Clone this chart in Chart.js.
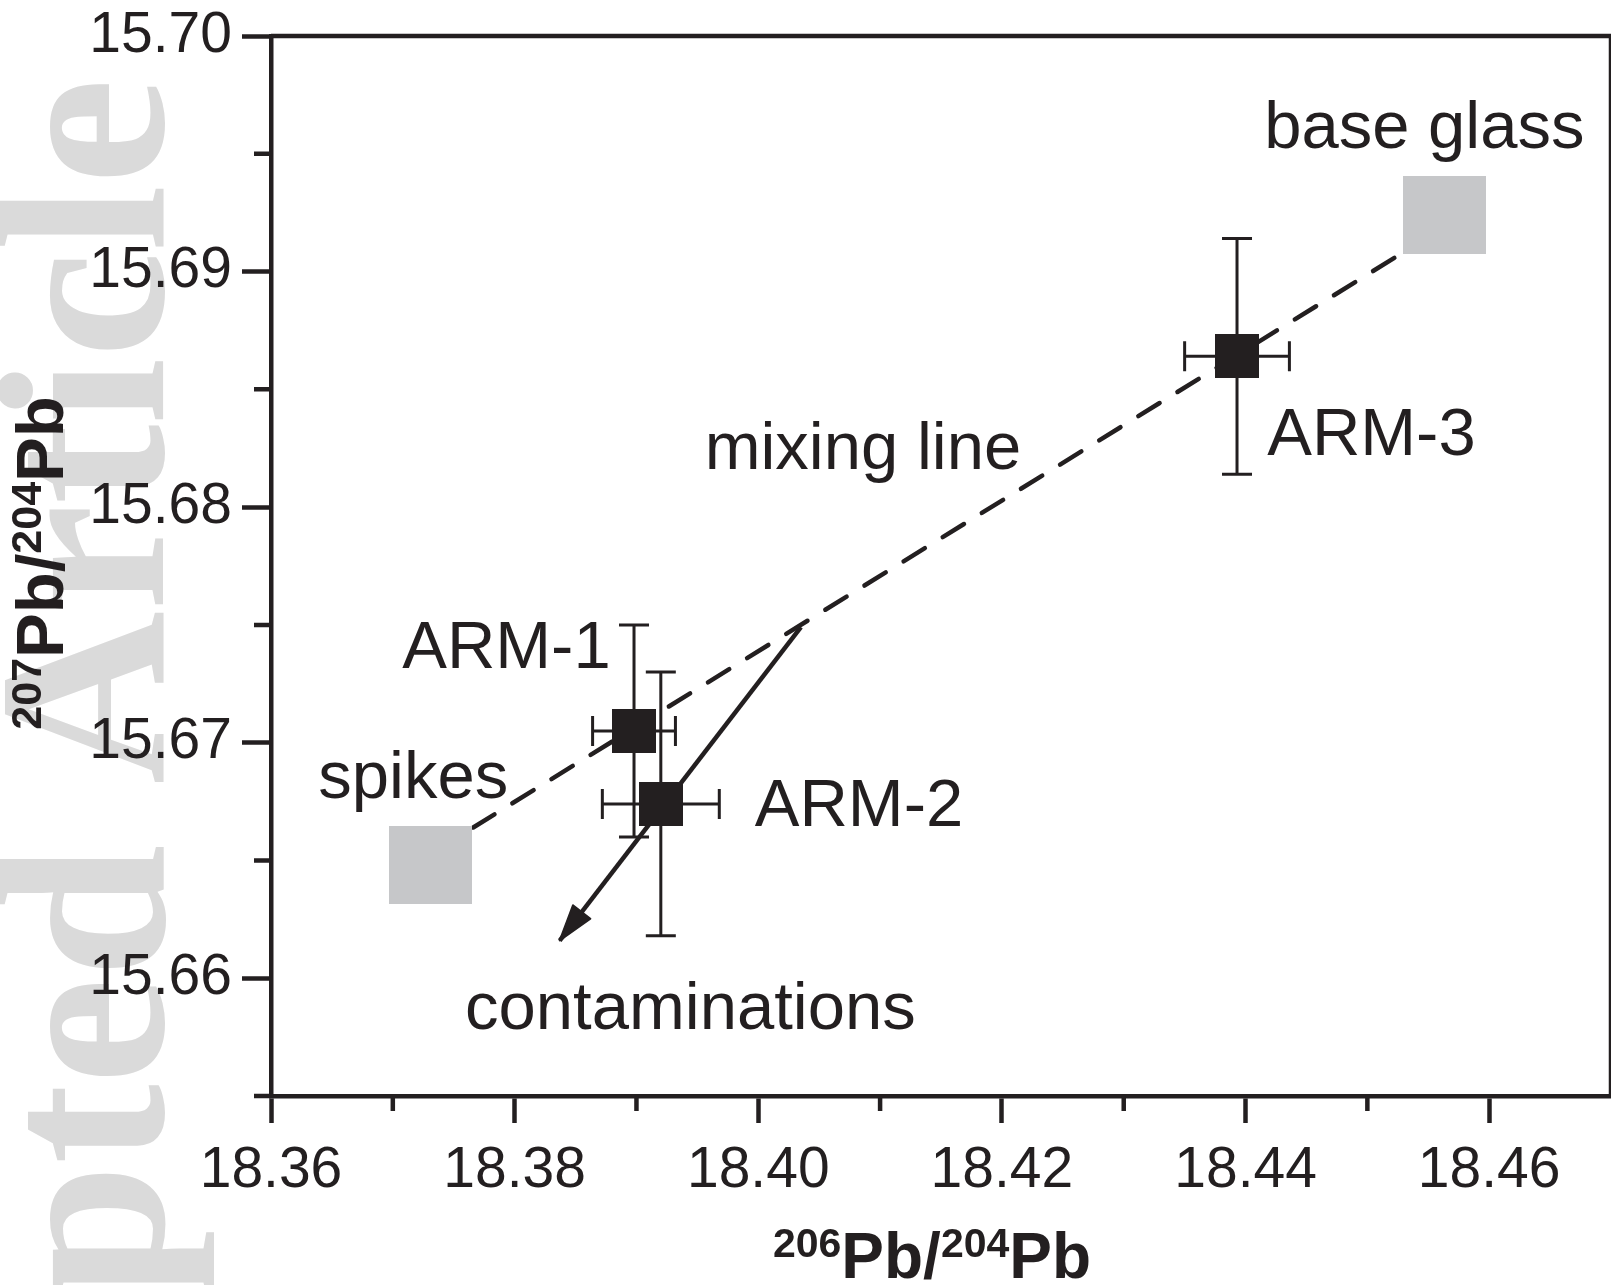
<!DOCTYPE html>
<html>
<head>
<meta charset="utf-8">
<script src="https://cdn.jsdelivr.net/npm/chart.js@4.4.0/dist/chart.umd.min.js"></script>
<style>
  html, body { margin: 0; padding: 0; background: #fff; }
  #wrap { width: 1611px; height: 1285px; position: relative; }
</style>
</head>
<body>
<div id="wrap"><canvas id="g_pb"></canvas></div>
<script>
// samples with 2s error bars
const sampleNames = ['ARM-1', 'ARM-2', 'ARM-3'];
const sampleX = [18.3898, 18.3920, 18.4393];
const sampleY = [15.6705, 15.6674, 15.6864];
const sampleXErr = [0.0034, 0.0048, 0.0043];
const sampleYErr = [0.0045, 0.0056, 0.0050];
// end members
const endNames = ['spikes', 'base glass'];
const endX = [18.3731, 18.4563];
const endY = [15.6648, 15.6924];
// mixing line (spikes -> base glass) and contamination arrow
const mixX = [18.3766, 18.4529];
const mixY = [15.6664, 15.6908];
const contX = [18.4035, 18.3837];
const contY = [15.6749, 15.6616];
// ticks
const xTicks = [18.36, 18.38, 18.40, 18.42, 18.44, 18.46];
const xMinor = [18.37, 18.39, 18.41, 18.43, 18.45];
const yTicks = [15.66, 15.67, 15.68, 15.69, 15.70];
const yMinor = [15.655, 15.665, 15.675, 15.685, 15.695];

// text notes: text, x, y (left / baseline, in data units)
const notes = [
  ['ARM-1', 18.37077, 15.67319],
  ['ARM-2', 18.39971, 15.66648],
  ['ARM-3', 18.44178, 15.68220],
  ['base glass', 18.44153, 15.69524],
  ['mixing line', 18.39560, 15.68161],
  ['spikes', 18.36388, 15.66767],
  ['contaminations', 18.37593, 15.65786]
];

const ink = '#231f20';
const sans = '"Liberation Sans", Arial, Helvetica, sans-serif';

function pts(xs, ys) {
  return xs.map((v, i) => ({x: v, y: ys[i]}));
}

function square(w, h, color) {
  const c = document.createElement('canvas');
  c.width = w;
  c.height = h;
  const g = c.getContext('2d');
  g.fillStyle = color;
  g.fillRect(0, 0, w, h);
  return c;
}

// 206Pb/204Pb style title with superscripts
function richTitle(ctx, parts, x, y, rotate) {
  ctx.save();
  ctx.translate(x, y);
  if (rotate) ctx.rotate(-Math.PI / 2);
  ctx.fillStyle = ink;
  ctx.textBaseline = 'alphabetic';
  ctx.textAlign = 'left';
  let w = 0;
  parts.forEach(p => {
    ctx.font = 'bold ' + p[1] + 'px ' + sans;
    w += ctx.measureText(p[0]).width;
  });
  let cx = -w / 2;
  parts.forEach(p => {
    ctx.font = 'bold ' + p[1] + 'px ' + sans;
    ctx.fillText(p[0], cx, -p[2]);
    cx += ctx.measureText(p[0]).width;
  });
  ctx.restore();
}

const extras = {
  id: 'extras',
  beforeDraw(chart) {
    const ctx = chart.ctx;
    ctx.save();
    ctx.fillStyle = '#fff';
    ctx.fillRect(0, 0, chart.width, chart.height);
    // watermark
    ctx.translate(163, 78);
    ctx.rotate(-Math.PI / 2);
    ctx.font = 'bold 240px "Liberation Serif", "Times New Roman", serif';
    ctx.fillStyle = '#dadada';
    ctx.textAlign = 'right';
    ctx.textBaseline = 'alphabetic';
    ctx.fillText('Accepted Article', 0, 0);
    ctx.restore();
  },
  beforeDatasetsDraw(chart) {
    const ctx = chart.ctx;
    const xs = chart.scales.x, ys = chart.scales.y;
    ctx.save();
    ctx.strokeStyle = ink;
    ctx.lineWidth = 3;
    for (let i = 0; i < sampleX.length; i++) {
      const px = xs.getPixelForValue(sampleX[i]);
      const py = ys.getPixelForValue(sampleY[i]);
      const x0 = xs.getPixelForValue(sampleX[i] - sampleXErr[i]);
      const x1 = xs.getPixelForValue(sampleX[i] + sampleXErr[i]);
      const y0 = ys.getPixelForValue(sampleY[i] - sampleYErr[i]);
      const y1 = ys.getPixelForValue(sampleY[i] + sampleYErr[i]);
      ctx.beginPath();
      ctx.moveTo(px, y0); ctx.lineTo(px, y1);
      ctx.moveTo(px - 15, y0); ctx.lineTo(px + 15, y0);
      ctx.moveTo(px - 15, y1); ctx.lineTo(px + 15, y1);
      ctx.moveTo(x0, py); ctx.lineTo(x1, py);
      ctx.moveTo(x0, py - 15); ctx.lineTo(x0, py + 15);
      ctx.moveTo(x1, py - 15); ctx.lineTo(x1, py + 15);
      ctx.stroke();
    }
    ctx.restore();
  },
  afterDatasetsDraw(chart) {
    // arrow head on contamination line
    const ctx = chart.ctx;
    const xs = chart.scales.x, ys = chart.scales.y;
    const n = contX.length;
    const ax = xs.getPixelForValue(contX[n - 2]), ay = ys.getPixelForValue(contY[n - 2]);
    const bx = xs.getPixelForValue(contX[n - 1]), by = ys.getPixelForValue(contY[n - 1]);
    const len = Math.hypot(bx - ax, by - ay);
    const dx = (bx - ax) / len, dy = (by - ay) / len;
    const cx = bx - dx * 36, cy = by - dy * 36;
    ctx.save();
    ctx.fillStyle = ink;
    ctx.strokeStyle = ink;
    ctx.lineWidth = 2;
    ctx.lineJoin = 'round';
    ctx.beginPath();
    ctx.moveTo(bx, by);
    ctx.lineTo(cx - dy * 11, cy + dx * 11);
    ctx.lineTo(cx + dy * 11, cy - dx * 11);
    ctx.closePath();
    ctx.fill();
    ctx.stroke();
    ctx.restore();
  },
  afterDraw(chart) {
    const ctx = chart.ctx;
    const xs = chart.scales.x, ys = chart.scales.y;
    const a = chart.chartArea;
    ctx.save();
    ctx.strokeStyle = ink;
    ctx.lineWidth = 4.5;
    // minor ticks
    ctx.beginPath();
    xMinor.forEach(v => {
      const p = xs.getPixelForValue(v);
      ctx.moveTo(p, a.bottom); ctx.lineTo(p, a.bottom + 15);
    });
    yMinor.forEach(v => {
      const p = ys.getPixelForValue(v);
      ctx.moveTo(a.left, p); ctx.lineTo(a.left - 17, p);
    });
    // top and right frame
    ctx.moveTo(a.left, a.top); ctx.lineTo(a.right, a.top);
    ctx.moveTo(a.right, a.top); ctx.lineTo(a.right, a.bottom);
    ctx.stroke();
    // notes
    ctx.fillStyle = ink;
    ctx.font = '67px ' + sans;
    ctx.textAlign = 'left';
    ctx.textBaseline = 'alphabetic';
    notes.forEach(n => {
      ctx.fillText(n[0], xs.getPixelForValue(n[1]), ys.getPixelForValue(n[2]));
    });
    ctx.restore();
    // axis titles
    richTitle(ctx, [['206', 41, 21], ['Pb/', 64, 0], ['204', 41, 21], ['Pb', 64, 0]], 932, 1278, false);
    richTitle(ctx, [['207', 43, 22], ['Pb/', 67, 0], ['204', 43, 22], ['Pb', 67, 0]], 63, 563, true);
  }
};

const tickFont = {size: 57, family: sans};

new Chart(document.getElementById('g_pb').getContext('2d'), {
  type: 'scatter',
  data: {
    datasets: [
      {
        label: 'samples',
        data: pts(sampleX, sampleY),
        pointStyle: square(44, 44, ink),
        pointRadius: 22,
        order: 0
      },
      {
        label: 'end members',
        data: pts(endX, endY),
        pointStyle: square(83, 78, '#c6c7c9'),
        pointRadius: 40,
        order: 0
      },
      {
        label: 'mixing line',
        data: pts(mixX, mixY),
        showLine: true,
        borderColor: ink,
        borderWidth: 4.5,
        borderDash: [25, 21],
        borderCapStyle: 'round',
        pointRadius: 0,
        order: 1
      },
      {
        label: 'contaminations',
        data: pts(contX, contY),
        showLine: true,
        borderColor: ink,
        borderWidth: 4.5,
        pointRadius: 0,
        order: 1
      }
    ]
  },
  options: {
    responsive: true,
    maintainAspectRatio: false,
    animation: false,
    events: [],
    layout: {autoPadding: false, padding: {left: 0, top: 36, right: 0, bottom: 0}},
    plugins: {legend: {display: false}, tooltip: {enabled: false}},
    scales: {
      x: {
        type: 'linear',
        min: 18.36,
        max: 18.47,
        afterBuildTicks: s => { s.ticks = xTicks.map(v => ({value: v})); },
        afterFit: s => { s.height = 189; s.paddingLeft = 0; s.paddingRight = 0; },
        ticks: {font: tickFont, color: ink, padding: 14, maxRotation: 0, callback: v => v.toFixed(2)},
        grid: {drawOnChartArea: false, drawTicks: true, tickLength: 27, tickWidth: 4.5, tickColor: ink},
        border: {display: true, color: ink, width: 4.5}
      },
      y: {
        type: 'linear',
        min: 15.655,
        max: 15.70,
        afterBuildTicks: s => { s.ticks = yTicks.map(v => ({value: v})); },
        afterFit: s => { s.width = 271; s.paddingTop = 0; s.paddingBottom = 0; },
        ticks: {font: tickFont, color: ink, padding: 10, callback: v => v.toFixed(2)},
        grid: {drawOnChartArea: false, drawTicks: true, tickLength: 29, tickWidth: 4.5, tickColor: ink},
        border: {display: true, color: ink, width: 4.5}
      }
    }
  },
  plugins: [extras]
});
</script>
</body>
</html>
